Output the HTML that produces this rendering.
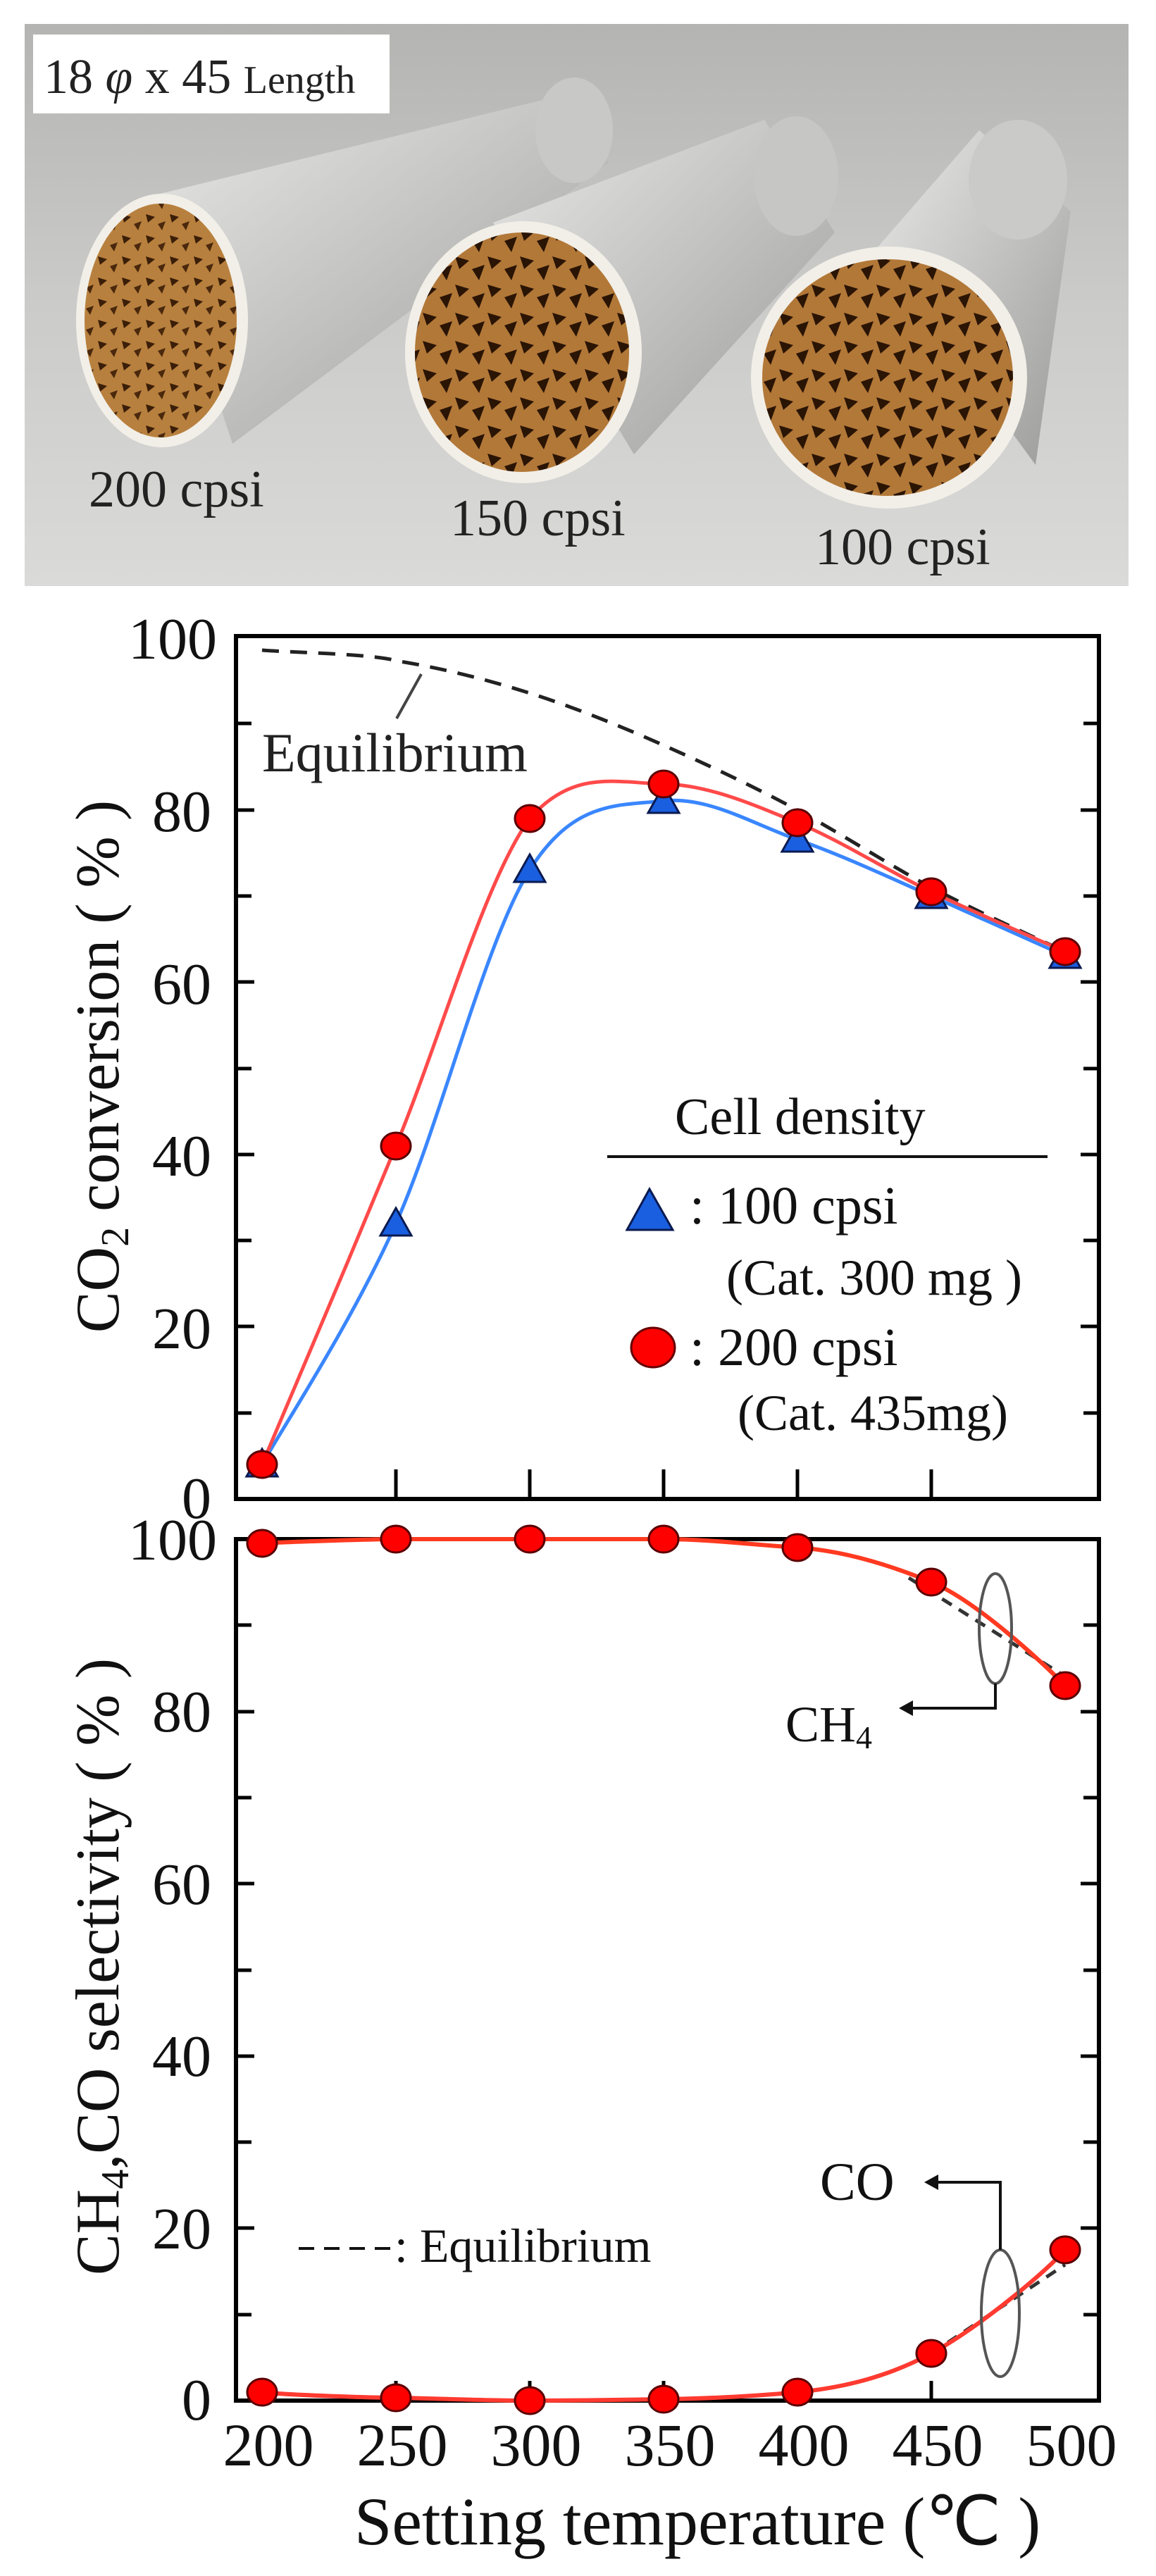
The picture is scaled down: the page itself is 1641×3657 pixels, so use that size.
<!DOCTYPE html>
<html><head><meta charset="utf-8"><style>
html,body{margin:0;padding:0;background:#fff;}
svg{display:block;}
</style></head><body>
<svg width="1641" height="3657" viewBox="0 0 1641 3657" xmlns="http://www.w3.org/2000/svg" font-family="'Liberation Serif', serif">
<defs>
<linearGradient id="bg" x1="0" y1="0" x2="0" y2="1">
<stop offset="0" stop-color="#b4b4b2"/><stop offset="0.5" stop-color="#cbcbc9"/><stop offset="1" stop-color="#dadad8"/></linearGradient>
<linearGradient id="cyl" x1="0" y1="0" x2="1" y2="1">
<stop offset="0" stop-color="#e8e8e6"/><stop offset="0.5" stop-color="#c2c2c0"/><stop offset="1" stop-color="#9a9a98"/></linearGradient>
<pattern id="hc" width="34" height="30" patternUnits="userSpaceOnUse">
<rect width="34" height="30" fill="#b8803e"/>
<path d="M3 4 L16 8 L6 16 Z" fill="#3a1e08"/><path d="M20 18 L31 14 L26 27 Z" fill="#4a280c"/>
</pattern>
<pattern id="hc2" width="46" height="40" patternUnits="userSpaceOnUse">
<rect width="46" height="40" fill="#b27838"/>
<path d="M2 4 L22 10 L8 22 Z" fill="#2a1404"/><path d="M26 22 L44 16 L36 38 Z" fill="#2a1404"/>
</pattern>
</defs>
<!-- photo -->
<rect x="35" y="34" width="1567" height="798" fill="url(#bg)"/>
<polygon points="215,278 770,142 865,230 330,630" fill="url(#cyl)"/>
<ellipse cx="815" cy="185" rx="55" ry="75" fill="#c8c8c6"/>
<ellipse cx="230" cy="455" rx="122" ry="180" fill="#f2efe8"/>
<ellipse cx="228" cy="455" rx="108" ry="166" fill="url(#hc)"/>
<polygon points="700,316 1085,170 1185,330 900,645" fill="url(#cyl)"/>
<ellipse cx="1130" cy="250" rx="60" ry="85" fill="#c6c6c4"/>
<ellipse cx="743" cy="500" rx="168" ry="186" fill="#f2efe8"/>
<ellipse cx="741" cy="500" rx="152" ry="170" fill="url(#hc2)"/>
<polygon points="1245,352 1390,185 1520,300 1470,660" fill="url(#cyl)"/>
<ellipse cx="1445" cy="255" rx="70" ry="85" fill="#cacac8"/>
<ellipse cx="1262" cy="536" rx="196" ry="186" fill="#f2efe8"/>
<ellipse cx="1260" cy="536" rx="178" ry="168" fill="url(#hc2)"/>
<rect x="47" y="49" width="506" height="112" fill="#fff"/>
<text x="62" y="132" font-size="70" fill="#222">18 <tspan font-style="italic">φ</tspan> x 45 <tspan font-size="56">Length</tspan></text>
<text x="126" y="719" font-size="74" fill="#222">200 cpsi</text>
<text x="639" y="760" font-size="74" fill="#222">150 cpsi</text>
<text x="1157" y="801" font-size="74" fill="#222">100 cpsi</text>

<!-- plot frames -->
<rect x="335" y="903" width="1225" height="1225" fill="none" stroke="#000" stroke-width="6"/>
<rect x="335" y="2185" width="1225" height="1223" fill="none" stroke="#000" stroke-width="6"/>
<g stroke="#000" stroke-width="5" fill="none">
<path d="M335,2006h22M335,1883h26M335,1761h22M335,1639h26M335,1517h22M335,1394h26M335,1272h22M335,1150h26M335,1027h22"/>
<path d="M1560,2006h-22M1560,1883h-26M1560,1761h-22M1560,1639h-26M1560,1517h-22M1560,1394h-26M1560,1272h-22M1560,1150h-26M1560,1027h-22"/>
<path d="M335,3286h22M335,3163h26M335,3041h22M335,2919h26M335,2797h22M335,2674h26M335,2552h22M335,2430h26M335,2307h22"/>
<path d="M1560,3286h-22M1560,3163h-26M1560,3041h-22M1560,2919h-26M1560,2797h-22M1560,2674h-26M1560,2552h-22M1560,2430h-26M1560,2307h-22"/>
<path d="M562,2128v-42M752,2128v-42M942,2128v-42M1132,2128v-42M1322,2128v-42"/>
<path d="M562,3408v-28M752,3408v-28M942,3408v-28M1132,3408v-28M1322,3408v-28"/>
</g>

<!-- curves -->
<g fill="none">
<path d="M372,923 C404,926 530,928 562,938 C625,948 689,964 752,984 C815,1004 879,1030 942,1058 C1005,1086 1069,1116 1132,1150 C1195,1184 1259,1226 1322,1260 C1385,1293 1480,1336 1512,1351" stroke="#222" stroke-width="5" stroke-dasharray="24,16"/>
<path d="M372,2079 C404,2022 499,1878 562,1737 C625,1596 689,1335 752,1235 C815,1135 879,1144 942,1137 C1005,1130 1069,1170 1132,1192 C1195,1214 1259,1244 1322,1272 C1385,1300 1480,1343 1512,1357" stroke="#3a86ff" stroke-width="5"/>
<path d="M372,2079 C404,2004 499,1780 562,1627 C625,1474 689,1248 752,1162 C815,1090 879,1112 942,1113 C1005,1114 1069,1142 1132,1168 C1195,1194 1259,1236 1322,1266 C1385,1296 1480,1337 1512,1351" stroke="#ff4a4a" stroke-width="5"/>
<path d="M1290,2240 L1512,2380" stroke="#333" stroke-width="5" stroke-dasharray="16,12"/>
<path d="M1322,3341 L1512,3215" stroke="#333" stroke-width="5" stroke-dasharray="16,12"/>
<path d="M372,2191 C404,2189 530,2185 562,2185 L942,2185 C1005,2185 1069,2193 1132,2197 C1195,2201 1259,2220 1322,2246 C1385,2272 1480,2360 1512,2393" stroke="#ff3a20" stroke-width="6"/>
<path d="M372,3396 C404,3400 530,3404 562,3404 C625,3405 689,3408 752,3408 C815,3408 879,3407 942,3406 C1005,3405 1069,3402 1132,3396 C1195,3390 1259,3375 1322,3341 C1385,3307 1480,3230 1512,3194" stroke="#ff3a30" stroke-width="6"/>
</g>

<!-- markers -->
<g fill="#1a5fe0" stroke="#0a1a50" stroke-width="3">
<polygon points="372,2057 394,2096 350,2096"/>
<polygon points="562,1715 584,1754 540,1754"/>
<polygon points="752,1213 774,1252 730,1252"/>
<polygon points="942,1115 964,1154 920,1154"/>
<polygon points="1132,1170 1154,1209 1110,1209"/>
<polygon points="1322,1250 1344,1289 1300,1289"/>
<polygon points="1512,1335 1534,1374 1490,1374"/>
</g>
<g fill="#ff0000" stroke="#5a0000" stroke-width="3">
<ellipse cx="372" cy="2079" rx="21" ry="19"/><ellipse cx="562" cy="1627" rx="21" ry="19"/><ellipse cx="752" cy="1162" rx="21" ry="19"/>
<ellipse cx="942" cy="1113" rx="21" ry="19"/><ellipse cx="1132" cy="1168" rx="21" ry="19"/><ellipse cx="1322" cy="1266" rx="21" ry="19"/><ellipse cx="1512" cy="1351" rx="21" ry="19"/>
<ellipse cx="372" cy="2191" rx="21" ry="19"/><ellipse cx="562" cy="2185" rx="21" ry="19"/><ellipse cx="752" cy="2185" rx="21" ry="19"/>
<ellipse cx="942" cy="2185" rx="21" ry="19"/><ellipse cx="1132" cy="2197" rx="21" ry="19"/><ellipse cx="1322" cy="2246" rx="21" ry="19"/><ellipse cx="1512" cy="2393" rx="21" ry="19"/>
<ellipse cx="372" cy="3396" rx="21" ry="19"/><ellipse cx="562" cy="3404" rx="21" ry="19"/><ellipse cx="752" cy="3408" rx="21" ry="19"/>
<ellipse cx="942" cy="3406" rx="21" ry="19"/><ellipse cx="1132" cy="3396" rx="21" ry="19"/><ellipse cx="1322" cy="3341" rx="21" ry="19"/><ellipse cx="1512" cy="3194" rx="21" ry="19"/>
</g>

<!-- tick labels -->
<g font-size="84" fill="#111" text-anchor="end">
<text x="308" y="935">100</text>
<text x="300" y="1180">80</text>
<text x="300" y="1425">60</text>
<text x="300" y="1669">40</text>
<text x="300" y="1914">20</text>
<text x="300" y="2155">0</text>
<text x="308" y="2214">100</text>
<text x="300" y="2458">80</text>
<text x="300" y="2703">60</text>
<text x="300" y="2947">40</text>
<text x="300" y="3192">20</text>
<text x="300" y="3435">0</text>
</g>
<g font-size="86" fill="#111" text-anchor="middle">
<text x="381" y="3500">200</text><text x="571" y="3500">250</text><text x="761" y="3500">300</text>
<text x="951" y="3500">350</text><text x="1141" y="3500">400</text><text x="1331" y="3500">450</text><text x="1521" y="3500">500</text>
</g>
<text x="503" y="3612" font-size="96" fill="#111">Setting temperature (℃ )</text>
<text transform="translate(168,1514) rotate(-90)" text-anchor="middle" font-size="88" fill="#111">CO<tspan font-size="56" dy="14">2</tspan><tspan dy="-14"> conversion ( % )</tspan></text>
<text transform="translate(168,2792) rotate(-90)" text-anchor="middle" font-size="88" fill="#111">CH<tspan font-size="56" dy="14">4</tspan><tspan dy="-14">,CO selectivity ( % )</tspan></text>

<text x="372" y="1095" font-size="78" fill="#222">Equilibrium</text>
<line x1="563" y1="1020" x2="598" y2="957" stroke="#444" stroke-width="4"/>
<text x="958" y="1610" font-size="74" fill="#111">Cell density</text>
<line x1="862" y1="1642" x2="1487" y2="1642" stroke="#111" stroke-width="4"/>
<polygon points="922,1688 955,1746 890,1746" fill="#1a5fe0" stroke="#0a1a50" stroke-width="3"/>
<text x="979" y="1737" font-size="76" fill="#111">: 100 cpsi</text>
<text x="1031" y="1838" font-size="72" fill="#111">(Cat. 300 mg )</text>
<ellipse cx="927" cy="1913" rx="31" ry="28" fill="#ff0000" stroke="#600" stroke-width="3"/>
<text x="979" y="1938" font-size="76" fill="#111">: 200 cpsi</text>
<text x="1047" y="2030" font-size="72" fill="#111">(Cat. 435mg)</text>

<ellipse cx="1413" cy="2312" rx="23" ry="78" fill="none" stroke="#555" stroke-width="4"/>
<polyline points="1413,2390 1413,2425 1285,2425" fill="none" stroke="#111" stroke-width="4"/>
<polygon points="1276,2425 1296,2414 1296,2436" fill="#111"/>
<text x="1115" y="2472" font-size="72" fill="#111">CH<tspan font-size="46" dy="10">4</tspan></text>
<ellipse cx="1420" cy="3284" rx="27" ry="90" fill="none" stroke="#555" stroke-width="4"/>
<polyline points="1420,3194 1420,3098 1322,3098" fill="none" stroke="#111" stroke-width="4"/>
<polygon points="1312,3098 1332,3087 1332,3109" fill="#111"/>
<text x="1164" y="3123" font-size="76" fill="#111">CO</text>
<line x1="424" y1="3192" x2="555" y2="3192" stroke="#111" stroke-width="4" stroke-dasharray="22,14"/>
<text x="560" y="3211" font-size="68" fill="#111">: Equilibrium</text>
</svg>
</body></html>
